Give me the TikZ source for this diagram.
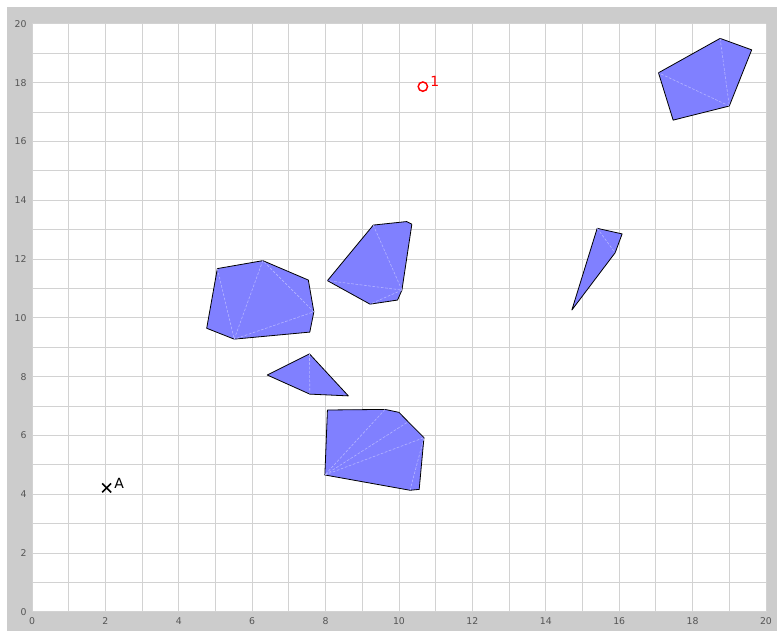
\documentclass[tikz,border=0pt]{standalone}
\usepackage{fontspec}
\setsansfont{DejaVu Sans}
\usetikzlibrary{shapes.misc,positioning}
\definecolor{plotPanel}{HTML}{CCCCCC}
\definecolor{plotGrid}{HTML}{D2D2D2}
\definecolor{plotTick}{HTML}{555555}
\definecolor{plotFill}{HTML}{8080FF}
\definecolor{plotDiag}{HTML}{B4B4FF}
\definecolor{plotMark}{HTML}{FF0000}
\begin{document}
\begin{tikzpicture}[
    x=27.525pt,y=22.05pt,
    every node/.style={font=\sffamily},
    ticklabel/.style={font=\sffamily\fontsize{7}{8}\selectfont,text=plotTick,inner sep=0pt},
    gridline/.style={draw=plotGrid,line width=0.75pt},
    hull/.style={draw=black,fill=plotFill,line width=0.6pt,line join=round},
    diag/.style={draw=plotDiag,dash pattern=on 2pt off 1.2pt,line width=0.45pt},
    ptlabel/.style={font=\sffamily\fontsize{10.5}{11}\selectfont,inner sep=0pt}
]
\useasboundingbox (-0.872,-0.646) rectangle (20.30,20.816);
\fill[plotPanel] (-0.681,-0.646) rectangle (20.30,20.578);
\fill[white] (0,0) rectangle (20,20);
% grid
\foreach \i in {0,...,20} {
  \draw[gridline] (\i,0) -- (\i,20);
  \draw[gridline] (0,\i) -- (20,\i);
}
% tick labels
\foreach \i in {0,2,...,20} {
  \node[ticklabel,anchor=north] (xtick\i) at (\i,-0.17) {\i};
  \node[ticklabel,anchor=east] (ytick\i) at (-0.14,\i) {\i};
}
% hulls
\filldraw[hull] (5.05,11.68) coordinate (a1) -- (6.29,11.95) coordinate (a2) -- (7.53,11.29) coordinate (a3)
  -- (7.68,10.21) coordinate (a4) -- (7.57,9.52) coordinate (a5) -- (5.51,9.28) coordinate (a6)
  -- (4.76,9.65) coordinate (a7) -- cycle;
\draw[diag] (a1) -- (a6) -- (a2) -- (a4) -- (a6);
\filldraw[hull] (9.30,13.16) coordinate (b1) -- (10.21,13.28) coordinate (b2) -- (10.35,13.19) coordinate (b3)
  -- (10.08,10.95) coordinate (b4) -- (9.96,10.61) coordinate (b5) -- (9.21,10.47) coordinate (b6)
  -- (8.05,11.27) coordinate (b7) -- cycle;
\draw[diag] (b1) -- (b4) -- (b7);
\draw[diag] (b4) -- (b6);
\filldraw[hull] (18.75,19.51) coordinate (c1) -- (19.61,19.12) coordinate (c2) -- (19.00,17.21) coordinate (c3)
  -- (17.47,16.73) coordinate (c4) -- (17.07,18.34) coordinate (c5) -- cycle;
\draw[diag] (c1) -- (c3) -- (c5);
\filldraw[hull] (8.05,6.87) coordinate (d1) -- (9.62,6.89) coordinate (d2) -- (10.00,6.79) coordinate (d3)
  -- (10.25,6.47) coordinate (d4) -- (10.68,5.93) coordinate (d5) -- (10.55,4.17) coordinate (d6)
  -- (10.30,4.14) coordinate (d7) -- (7.98,4.66) coordinate (d8) -- cycle;
\draw[diag] (d2) -- (d8) -- (d4);
\draw[diag] (d8) -- (d5) -- (d7);
\filldraw[hull] (7.56,8.78) coordinate (e1) -- (8.62,7.35) coordinate (e2) -- (7.57,7.41) coordinate (e3)
  -- (6.41,8.06) coordinate (e4) -- cycle;
\draw[diag] (e1) -- (e3);
\filldraw[hull] (15.40,13.05) coordinate (f1) -- (16.08,12.86) coordinate (f2) -- (15.89,12.22) coordinate (f3)
  -- (14.71,10.27) coordinate (f4) -- cycle;
\draw[diag] (f1) -- (f3);
% points
\node[draw,cross out,line width=1.2pt,minimum size=5.5pt,inner sep=0pt] (ptA) at (2.035,4.22) {};
\node[ptlabel,anchor=west] (labA) at (2.24,4.39) {A};
\node[circle,draw=plotMark,line width=1.1pt,minimum size=7pt,inner sep=0pt] (ptOne) at (10.65,17.87) {};
\node[ptlabel,anchor=west,text=plotMark] (labOne) at (10.85,18.05) {1};
\end{tikzpicture}
\end{document}
